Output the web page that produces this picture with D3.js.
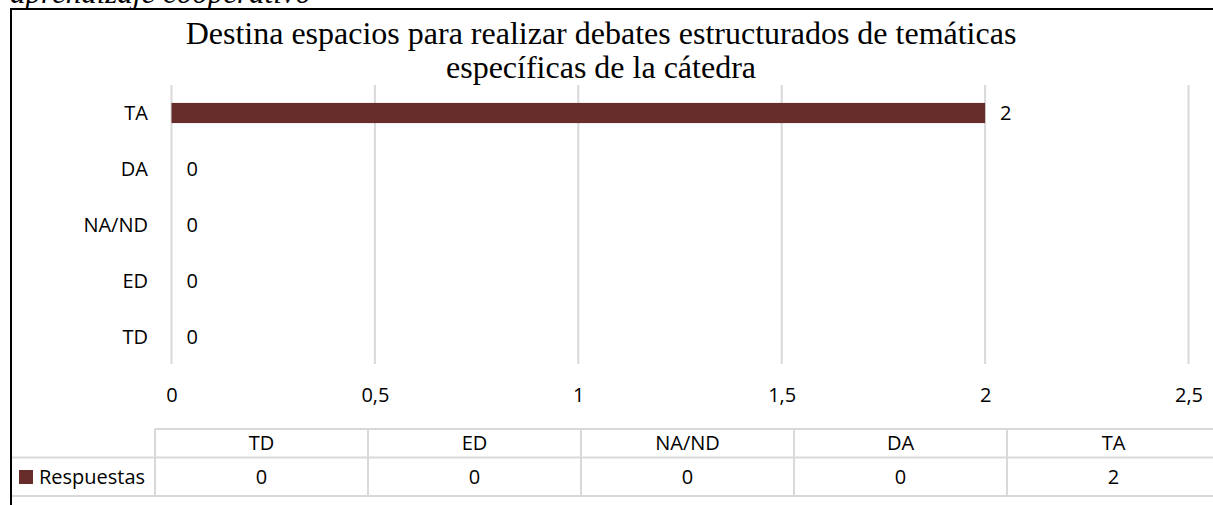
<!DOCTYPE html>
<html>
<head>
<meta charset="utf-8">
<script src="https://cdn.jsdelivr.net/npm/d3@7"></script>
<style>
  body { margin: 0; background: #fff; }
  svg { display: block; }
  .lbl { font-family: "Open Sans", Lato, sans-serif; font-size: 20px; fill: #000; }
</style>
</head>
<body>
<svg id="chart"></svg>
<script>
// data
const categories = ['TD', 'ED', 'NA/ND', 'DA', 'TA'];
const values = [0, 0, 0, 0, 2];
const xTicks = [0, 0.5, 1, 1.5, 2, 2.5];
const seriesName = 'Respuestas';
const titleLines = ['Destina espacios para realizar debates estructurados de temáticas', 'específicas de la cátedra'];
const captionText = 'aprendizaje cooperativo';

const W = 1213, H = 505;
const barColor = '#672d2a';
const gridColor = '#d9d9d9';

const svg = d3.select('#chart').attr('width', W).attr('height', H);

// caption above the frame (cut off by the top edge, as in the source page)
svg.append('text')
    .attr('x', 10).attr('y', 3)
    .style('font-family', '"Liberation Serif", "Times New Roman", serif')
    .style('font-style', 'italic')
    .style('font-size', '31px')
    .text(captionText);

// frame
svg.append('path')
    .attr('d', `M11,${H} L11,9 L${W},9`)
    .attr('fill', 'none').attr('stroke', '#000').attr('stroke-width', 2);

// title
svg.append('text')
    .attr('x', 601).attr('y', 44)
    .attr('text-anchor', 'middle')
    .style('font-family', '"Liberation Serif", "Times New Roman", serif')
    .style('font-size', '32px')
    .selectAll('tspan')
    .data(titleLines)
    .enter().append('tspan')
    .attr('x', 601)
    .attr('dy', (d, i) => i === 0 ? 0 : 34)
    .text(d => d);

// scales
const plotTop = 85, plotBottom = 364;
const x = d3.scaleLinear().domain([0, 2.5]).range([171.5, 1188.5]);
const y = d3.scaleBand()
    .domain(categories.slice().reverse())
    .range([85, 365])
    .paddingInner(0.64)
    .paddingOuter(0.32);

const locale = d3.formatLocale({ decimal: ',', thousands: '.', grouping: [3], currency: ['', ''] });
const fmt = locale.format('~g');

// gridlines
svg.append('g')
    .selectAll('line')
    .data(xTicks)
    .enter().append('line')
    .attr('x1', d => x(d)).attr('x2', d => x(d))
    .attr('y1', plotTop).attr('y2', plotBottom)
    .attr('stroke', gridColor).attr('stroke-width', 2);

// bars
svg.append('g')
    .selectAll('rect')
    .data(categories)
    .enter().append('rect')
    .attr('x', x(0))
    .attr('y', d => y(d))
    .attr('width', (d, i) => x(values[i]) - x(0))
    .attr('height', y.bandwidth())
    .attr('fill', barColor);

// value labels
svg.append('g')
    .selectAll('text')
    .data(categories)
    .enter().append('text')
    .attr('class', 'lbl')
    .attr('x', (d, i) => x(values[i]) + 15)
    .attr('y', d => y(d) + y.bandwidth() / 2)
    .attr('dy', '0.35em')
    .text((d, i) => fmt(values[i]));

// category labels
svg.append('g')
    .selectAll('text')
    .data(categories)
    .enter().append('text')
    .attr('class', 'lbl')
    .attr('x', 148)
    .attr('y', d => y(d) + y.bandwidth() / 2)
    .attr('dy', '0.35em')
    .attr('text-anchor', 'end')
    .text(d => d);

// x axis tick labels
const xAxis = svg.append('g')
    .attr('transform', 'translate(0,395)')
    .call(d3.axisBottom(x).tickValues(xTicks).tickSize(0).tickFormat(fmt));
xAxis.select('.domain').remove();
xAxis.selectAll('text')
    .attr('class', 'lbl')
    .attr('fill', '#000')
    .attr('y', 0)
    .attr('dy', '0.35em')
    .style('font-family', '"Open Sans", Lato, sans-serif')
    .style('font-size', '20px');

// data table
const tTop = 429, tMid = 457.5, tBot = 496;
const col = d3.scaleBand().domain(categories).range([155, 1220]);
const table = svg.append('g');

table.append('line')
    .attr('x1', 155).attr('x2', W).attr('y1', tTop).attr('y2', tTop)
    .attr('stroke', gridColor).attr('stroke-width', 2);
table.selectAll('.hline')
    .data([tMid, tBot])
    .enter().append('line')
    .attr('x1', 12).attr('x2', W)
    .attr('y1', d => d).attr('y2', d => d)
    .attr('stroke', gridColor).attr('stroke-width', 2);
table.selectAll('.vline')
    .data(categories)
    .enter().append('line')
    .attr('x1', d => col(d)).attr('x2', d => col(d))
    .attr('y1', tTop).attr('y2', tBot)
    .attr('stroke', gridColor).attr('stroke-width', 2);

table.selectAll('.head')
    .data(categories)
    .enter().append('text')
    .attr('class', 'lbl')
    .attr('x', d => col(d) + col.bandwidth() / 2)
    .attr('y', (tTop + tMid) / 2)
    .attr('dy', '0.35em')
    .attr('text-anchor', 'middle')
    .text(d => d);

table.selectAll('.val')
    .data(categories)
    .enter().append('text')
    .attr('class', 'lbl')
    .attr('x', d => col(d) + col.bandwidth() / 2)
    .attr('y', (tMid + tBot) / 2)
    .attr('dy', '0.35em')
    .attr('text-anchor', 'middle')
    .text((d, i) => fmt(values[i]));

// legend key in the table
table.append('rect')
    .attr('x', 19).attr('y', 470)
    .attr('width', 14).attr('height', 14)
    .attr('fill', barColor);
table.append('text')
    .attr('class', 'lbl')
    .attr('x', 39)
    .attr('y', (tMid + tBot) / 2)
    .attr('dy', '0.35em')
    .text(seriesName);
</script>
</body>
</html>
